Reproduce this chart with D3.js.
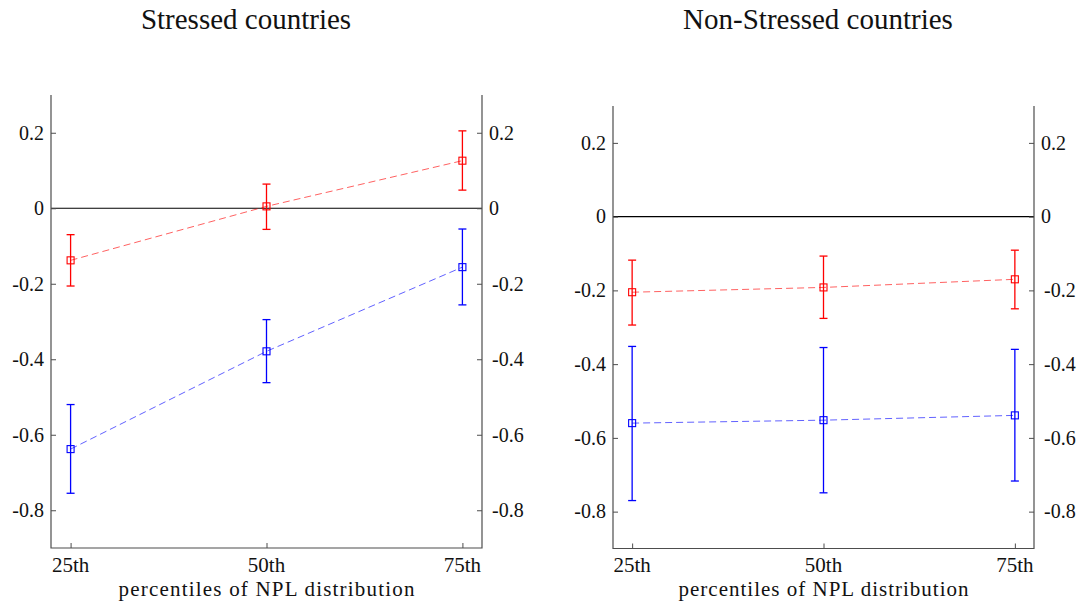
<!DOCTYPE html>
<html>
<head>
<meta charset="utf-8">
<script src="https://cdn.jsdelivr.net/npm/d3@7"></script>
<style>
  body { margin: 0; background: #fff; }
  svg { display: block; }
</style>
</head>
<body>
<svg id="chart" width="1077" height="603"></svg>
<script>
// ---- Data ----
const categories = ["25th", "50th", "75th"];
const yTickValues = [0.2, 0, -0.2, -0.4, -0.6, -0.8];
const yTickLabels = ["0.2", "0", "-0.2", "-0.4", "-0.6", "-0.8"];
const panelTitles = ["Stressed countries", "Non-Stressed countries"];
const xAxisTitle = "percentiles of NPL distribution";

// Stressed countries
const stressedRed   = [-0.138, 0.005, 0.126];
const stressedRedLo = [-0.206, -0.056, 0.048];
const stressedRedHi = [-0.070, 0.064, 0.205];
const stressedBlue   = [-0.638, -0.379, -0.156];
const stressedBlueLo = [-0.755, -0.462, -0.256];
const stressedBlueHi = [-0.520, -0.295, -0.055];

// Non-stressed countries
const nonRed   = [-0.205, -0.192, -0.170];
const nonRedLo = [-0.294, -0.276, -0.250];
const nonRedHi = [-0.118, -0.107, -0.091];
const nonBlue   = [-0.560, -0.552, -0.539];
const nonBlueLo = [-0.770, -0.749, -0.717];
const nonBlueHi = [-0.352, -0.355, -0.360];

// ---- Layout ----
const FONT = "'Liberation Serif', 'Times New Roman', serif";
const panels = [
  { left: 51, right: 482, top: 95, bottom: 548, titleX: 246,
    series: [
      { c: "#ff0000", v: stressedRed, lo: stressedRedLo, hi: stressedRedHi },
      { c: "#0000ff", v: stressedBlue, lo: stressedBlueLo, hi: stressedBlueHi }
    ] },
  { left: 613, right: 1034, top: 106, bottom: 548.5, titleX: 818,
    series: [
      { c: "#ff0000", v: nonRed, lo: nonRedLo, hi: nonRedHi },
      { c: "#0000ff", v: nonBlue, lo: nonBlueLo, hi: nonBlueHi }
    ] }
];

const svg = d3.select("#chart");
const axisColor = "#4d4d4d";
const tickLen = 5;

function txt(sel, x, y, s, size, anchor) {
  return sel.append("text").attr("x", x).attr("y", y)
    .attr("text-anchor", anchor).attr("font-size", size)
    .style("font-family", FONT).style("fill", "#111").text(s);
}

panels.forEach((p, pi) => {
  const x = d3.scaleLinear().domain([0.9, 3.1]).range([p.left, p.right]);
  const y = d3.scaleLinear().domain([-0.9, 0.3]).range([p.bottom, p.top]);
  const g = svg.append("g");

  // title
  txt(g, p.titleX, 29, panelTitles[pi], 29, "middle");

  // zero line
  g.append("line")
    .attr("x1", p.left).attr("x2", p.right)
    .attr("y1", y(0)).attr("y2", y(0))
    .attr("stroke", "#000").attr("stroke-width", 1.1);

  // left axis (ticks inward)
  const leftAx = d3.axisRight(y).tickValues(yTickValues).tickSize(tickLen).tickFormat("");
  g.append("g").attr("transform", `translate(${p.left},0)`).call(leftAx)
    .call(a => a.select(".domain").remove())
    .call(a => a.selectAll("line").attr("stroke", axisColor));
  // right axis (ticks inward)
  const rightAx = d3.axisLeft(y).tickValues(yTickValues).tickSize(tickLen).tickFormat("");
  g.append("g").attr("transform", `translate(${p.right},0)`).call(rightAx)
    .call(a => a.select(".domain").remove())
    .call(a => a.selectAll("line").attr("stroke", axisColor));
  // bottom axis (ticks inward)
  const botAx = d3.axisTop(x).tickValues([1, 2, 3]).tickSize(tickLen).tickFormat("");
  g.append("g").attr("transform", `translate(0,${p.bottom})`).call(botAx)
    .call(a => a.select(".domain").remove())
    .call(a => a.selectAll("line").attr("stroke", axisColor));

  // axis lines
  g.append("path")
    .attr("d", `M${p.left},${p.top}V${p.bottom}H${p.right}V${p.top}`)
    .attr("fill", "none").attr("stroke", axisColor).attr("stroke-width", 1.2);

  // y tick labels
  yTickValues.forEach((v, i) => {
    txt(g, p.left - 7, y(v), yTickLabels[i], 20, "end").attr("dy", "0.34em");
    const neg = yTickLabels[i].startsWith("-");
    txt(g, p.right + 7 + (neg ? 3 : 0), y(v), yTickLabels[i], 20, "start").attr("dy", "0.34em");
  });

  // x tick labels
  categories.forEach((c, i) => {
    txt(g, x(i + 1), 572, c, 21, "middle");
  });
  txt(g, (p.left + p.right) / 2, 596, xAxisTitle, 21, "middle")
    .attr("textLength", pi === 0 ? 296 : 290).attr("lengthAdjust", "spacing");

  // series
  p.series.forEach(s => {
    const pts = s.v.map((v, i) => ({ i: i + 1, v, lo: s.lo[i], hi: s.hi[i] }));
    const line = d3.line().x(d => x(d.i)).y(d => y(d.v));
    g.append("path").datum(pts).attr("d", line)
      .attr("fill", "none").attr("stroke", s.c).attr("stroke-opacity", 0.62)
      .attr("stroke-width", 1).attr("stroke-dasharray", "7,4");
    const eb = g.append("g").attr("stroke", s.c).attr("stroke-width", 1.3).attr("fill", "none");
    pts.forEach(d => {
      const cx = x(d.i);
      eb.append("line").attr("x1", cx).attr("x2", cx).attr("y1", y(d.hi)).attr("y2", y(d.lo));
      eb.append("line").attr("x1", cx - 4).attr("x2", cx + 4).attr("y1", y(d.hi)).attr("y2", y(d.hi));
      eb.append("line").attr("x1", cx - 4).attr("x2", cx + 4).attr("y1", y(d.lo)).attr("y2", y(d.lo));
      eb.append("rect").attr("x", cx - 3.5).attr("y", y(d.v) - 3.5)
        .attr("width", 7).attr("height", 7).attr("stroke-width", 1.1);
    });
  });
});
</script>
</body>
</html>
